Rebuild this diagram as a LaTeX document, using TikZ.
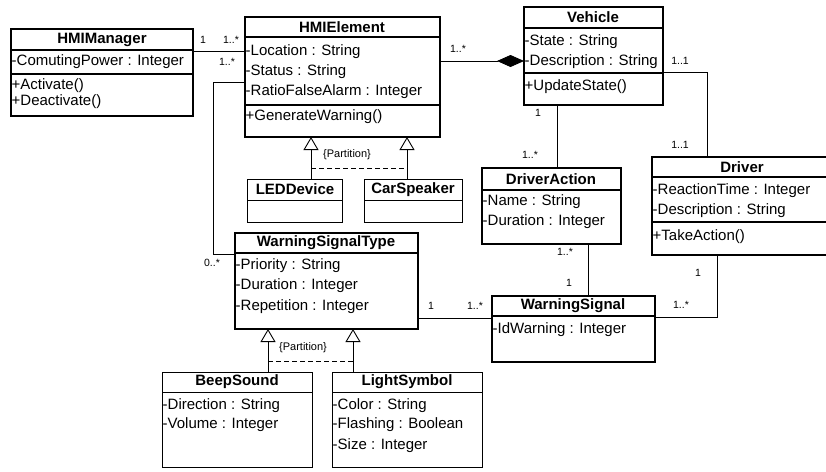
\documentclass[tikz,border=0pt]{standalone}
\usepackage{fontspec}
\setmainfont{Liberation Sans}
\usetikzlibrary{arrows.meta}
% class box: name, style, left, top, width, height
\newcommand\umlclass[6]{\node[#2, minimum width=#5pt, minimum height=#6pt] (#1) at (#3,#4) {};}
\begin{document}
\begin{tikzpicture}[x=1pt,y=-1pt,
  box/.style={draw, line width=2.8pt, inner sep=0pt, outer sep=0pt, anchor=north west},
  thinbox/.style={draw, line width=1pt, inner sep=0pt, outer sep=0pt, anchor=north west},
  sepline/.style={line width=2pt},
  thinsep/.style={line width=1pt},
  title/.style={font=\fontsize{15}{18}\selectfont\bfseries, inner sep=0pt},
  attr/.style={font=\fontsize{15}{18}\selectfont, anchor=west, inner sep=0pt},
  mult/.style={font=\fontsize{10.5}{12}\selectfont, inner sep=0pt},
  part/.style={font=\fontsize{11}{13}\selectfont, inner sep=0pt},
  assoc/.style={line width=0.9pt},
  gen/.style={line width=0.9pt, -{Triangle[open, length=13pt, width=15pt, line width=0.9pt]}},
  comp/.style={line width=0.9pt, -{Diamond[length=27pt, width=12pt]}},
  partline/.style={line width=0.9pt, dash pattern=on 5pt off 3pt},
]
\useasboundingbox (0,0) rectangle (826,471);
\clip (0,0) rectangle (826,471);

% ---------- HMIManager ----------
\umlclass{hmimgr}{box}{11}{29}{182}{87}
\draw[sepline] (11,50) -- (193,50);
\draw[sepline] (11,74) -- (193,74);
\node[title] (hmimgr-t) at (102,40) {HMIManager};
\node[attr] (hmimgr-a1) at (11.5,62) {-ComutingPower : Integer};
\node[attr] (hmimgr-m1) at (11.5,86) {+Activate()};
\node[attr] (hmimgr-m2) at (11.5,102) {+Deactivate()};

% ---------- HMIElement ----------
\umlclass{hmiel}{box}{245}{17}{195}{120}
\draw[sepline] (245,37) -- (440,37);
\draw[sepline] (245,105) -- (440,105);
\node[title] (hmiel-t) at (342,27) {HMIElement};
\node[attr] (hmiel-a1) at (245.5,52) {-Location : String};
\node[attr] (hmiel-a2) at (245.5,72) {-Status : String};
\node[attr] (hmiel-a3) at (245.5,92) {-RatioFalseAlarm : Integer};
\node[attr] (hmiel-m1) at (245.5,117) {+GenerateWarning()};

% ---------- Vehicle ----------
\umlclass{veh}{box}{524}{7}{139}{98}
\draw[sepline] (524,28) -- (663,28);
\draw[sepline] (524,73) -- (663,73);
\node[title] (veh-t) at (593,17) {Vehicle};
\node[attr] (veh-a1) at (524.5,42) {-State : String};
\node[attr] (veh-a2) at (524.5,62) {-Description : String};
\node[attr] (veh-m1) at (524.5,87) {+UpdateState()};

% ---------- DriverAction ----------
\umlclass{dact}{box}{482}{168}{139}{76}
\draw[sepline] (482,190) -- (621,190);
\node[title] (dact-t) at (551,179) {DriverAction};
\node[attr] (dact-a1) at (482.5,202) {-Name : String};
\node[attr] (dact-a2) at (482.5,222) {-Duration : Integer};

% ---------- Driver ----------
\umlclass{drv}{box}{652}{157}{180}{98}
\draw[sepline] (652,177) -- (832,177);
\draw[sepline] (652,222) -- (832,222);
\node[title] (drv-t) at (742,167) {Driver};
\node[attr] (drv-a1) at (652.5,191) {-ReactionTime : Integer};
\node[attr] (drv-a2) at (652.5,211) {-Description : String};
\node[attr] (drv-m1) at (652.5,237) {+TakeAction()};

% ---------- WarningSignal ----------
\umlclass{ws}{box}{492}{296}{163}{66}
\draw[sepline] (492,316) -- (655,316);
\node[title] (ws-t) at (573,306) {WarningSignal};
\node[attr] (ws-a1) at (492.5,330) {-IdWarning : Integer};

% ---------- WarningSignalType ----------
\umlclass{wst}{box}{235}{233}{183}{96}
\draw[sepline] (235,253) -- (418,253);
\node[title] (wst-t) at (326,243) {WarningSignalType};
\node[attr] (wst-a1) at (235.5,266) {-Priority : String};
\node[attr] (wst-a2) at (235.5,286) {-Duration : Integer};
\node[attr] (wst-a3) at (235.5,307) {-Repetition : Integer};

% ---------- LEDDevice / CarSpeaker ----------
\umlclass{led}{thinbox}{247}{179}{95}{43}
\draw[thinsep] (247,200) -- (342,200);
\node[title] (led-t) at (295,189.5) {LEDDevice};
\umlclass{csp}{thinbox}{364}{179}{98}{43}
\draw[thinsep] (364,200) -- (462,200);
\node[title] (csp-t) at (413,189.5) {CarSpeaker};

% ---------- BeepSound / LightSymbol ----------
\umlclass{beep}{thinbox}{162}{372}{150}{95}
\draw[thinsep] (162,392) -- (312,392);
\node[title] (beep-t) at (237,382) {BeepSound};
\node[attr] (beep-a1) at (162.5,406) {-Direction : String};
\node[attr] (beep-a2) at (162.5,425) {-Volume : Integer};
\umlclass{light}{thinbox}{332}{372}{150}{95}
\draw[thinsep] (332,392) -- (482,392);
\node[title] (light-t) at (407,382) {LightSymbol};
\node[attr] (light-a1) at (332.5,406) {-Color : String};
\node[attr] (light-a2) at (332.5,425) {-Flashing : Boolean};
\node[attr] (light-a3) at (332.5,446) {-Size : Integer};

% ---------- associations ----------
\draw[assoc] (hmimgr.east |- 0,51) -- (hmiel.west |- 0,51);
\node[mult] (m1) at (203,40) {1};
\node[mult] (m2) at (231,40) {1..*};

\draw[assoc] (hmiel.west |- 0,82) -- ++(-32,0) |- (wst.west |- 0,254);
\node[mult] (m3) at (227,62) {1..*};
\node[mult] (m4) at (212,263) {0..*};

\draw[comp] (hmiel.east |- 0,61) -- (veh.west |- 0,61);
\node[mult] (m5) at (458,49) {1..*};

\draw[assoc] (veh.east |- 0,72) -| (drv.north -| 707,0);
\node[mult] (m6) at (680,61) {1..1};
\node[mult] (m7) at (680,145) {1..1};

\draw[assoc] (veh.south -| 557,0) -- (dact.north -| 557,0);
\node[mult] (m8) at (538,113) {1};
\node[mult] (m9) at (530,155) {1..*};

\draw[assoc] (dact.south -| 588,0) -- (ws.north -| 588,0);
\node[mult] (m10) at (565,252) {1..*};
\node[mult] (m11) at (569,283) {1};

\draw[assoc] (drv.south -| 717,0) |- (ws.east |- 0,317);
\node[mult] (m12) at (698,273) {1};
\node[mult] (m13) at (681,305) {1..*};

\draw[assoc] (wst.east |- 0,318) -- (ws.west |- 0,318);
\node[mult] (m14) at (431,306) {1};
\node[mult] (m15) at (475,306) {1..*};

% ---------- generalisations ----------
\draw[gen] (led.north -| 311,0) -- (hmiel.south -| 311,0);
\draw[gen] (csp.north -| 407,0) -- (hmiel.south -| 407,0);
\draw[partline] (311,168) -- (407,168);
\node[part] (p1) at (347,155) {\{Partition\}};

\draw[gen] (beep.north -| 268,0) -- (wst.south -| 268,0);
\draw[gen] (light.north -| 353,0) -- (wst.south -| 353,0);
\draw[partline] (268,361) -- (353,361);
\node[part] (p2) at (303,348) {\{Partition\}};
\end{tikzpicture}
\end{document}
